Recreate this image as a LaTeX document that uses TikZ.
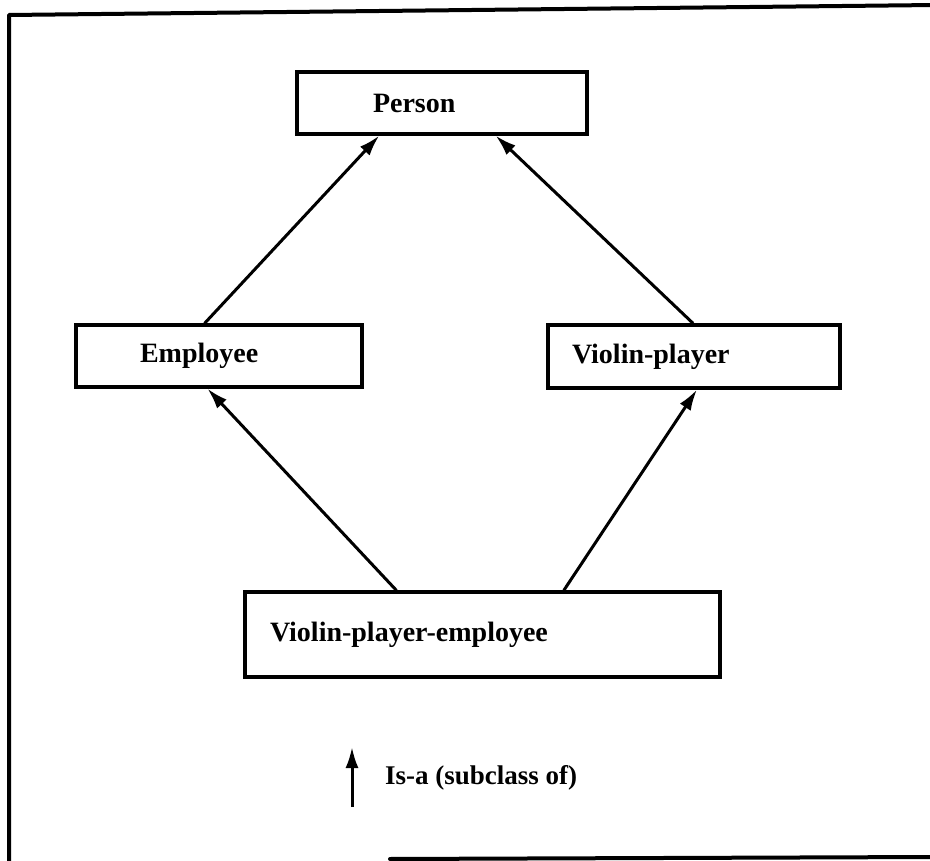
\documentclass[tikz,border=0pt]{standalone}
\usepackage{fontspec}
\setmainfont{Liberation Serif}
\usetikzlibrary{arrows.meta,calc}

\tikzset{
  classbox/.style={draw, line width=3.2pt, rectangle, inner xsep=0pt, inner ysep=0pt,
                   align=left, font=\fontsize{28}{32}\selectfont\bfseries},
  isa/.style={line width=3pt, -{Latex[length=21pt,width=13pt]}},
  frameline/.style={line width=4pt, line cap=round, line join=round}
}

\begin{document}
\begin{tikzpicture}[x=1pt, y=-1pt]
  \useasboundingbox (0,0) rectangle (930,861);

  % outer frame
  \draw[frameline] (935,5) -- (9,15) -- (9,866);
  \draw[frameline] (390,859) -- (935,857);

  % classes
  \node[classbox, text width=290pt, minimum height=62pt] (person) at (442,103)
    {\hspace*{76pt}Person};
  \node[classbox, text width=286pt, minimum height=62pt] (emp) at (219,356)
    {\hspace*{64pt}Employee};
  \node[classbox, text width=292pt, minimum height=63pt] (vp) at (694,356.5)
    {\hspace*{24pt}Violin-player};
  \node[classbox, text width=475pt, minimum height=85pt] (vpe) at (482.5,634.5)
    {\hspace*{25pt}Violin-player-employee};

  % is-a links
  \draw[isa] ($(emp.north west)!0.45!(emp.north east)$)
          -- ($(person.south west)!0.286!(person.south east)$);
  \draw[isa] ($(vp.north west)!0.497!(vp.north east)$)
          -- ($(person.south west)!0.683!(person.south east)$);
  \draw[isa] ($(vpe.north west)!0.32!(vpe.north east)$)
          -- ($(emp.south west)!0.46!(emp.south east)$);
  \draw[isa] ($(vpe.north west)!0.67!(vpe.north east)$)
          -- ($(vp.south west)!0.51!(vp.south east)$);

  % legend
  \coordinate (legtail) at (352,807);
  \coordinate (leghead) at (352,747);
  \draw[isa] (legtail) -- (leghead);
  \node[anchor=west, inner sep=0pt, font=\fontsize{27}{30}\selectfont\bfseries]
    (legtext) at (385,778) {Is-a (subclass of)};
\end{tikzpicture}
\end{document}
